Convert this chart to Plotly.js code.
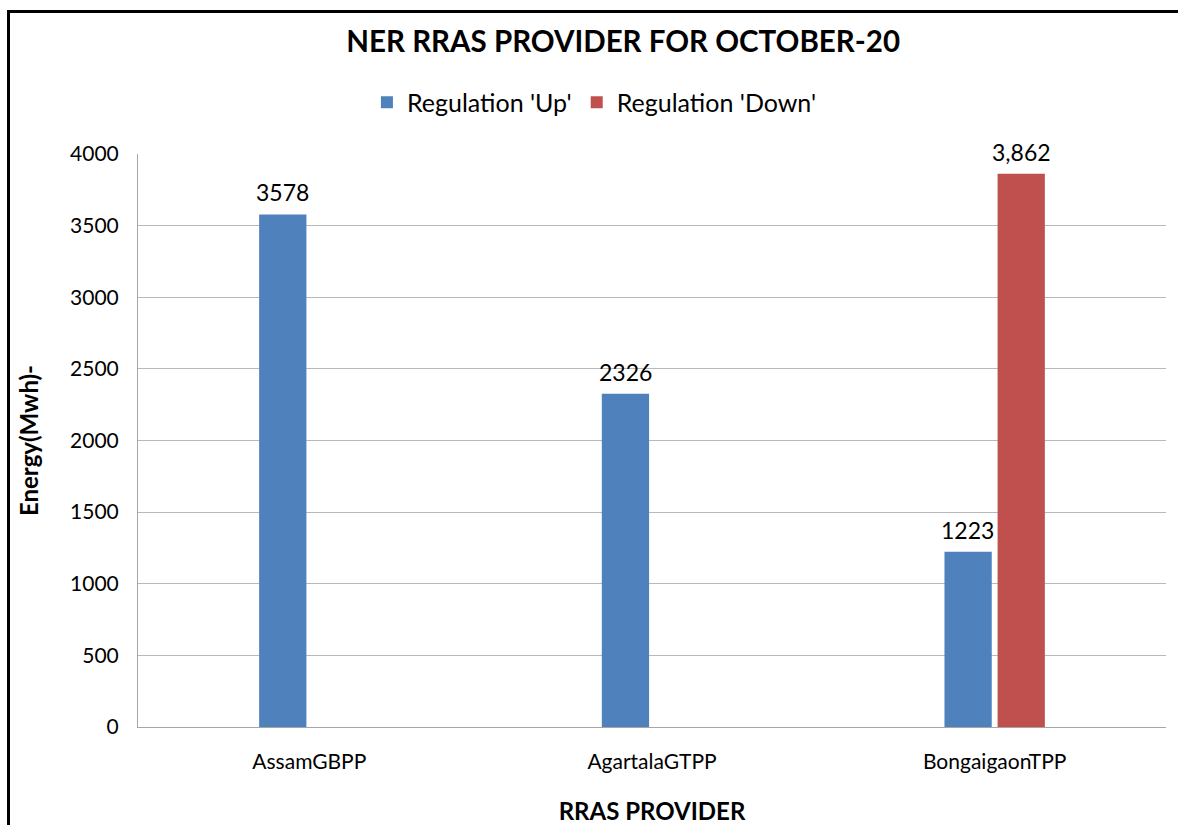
<!DOCTYPE html>
<html>
<head>
<meta charset="utf-8">
<script src="https://cdn.plot.ly/plotly-3.0.1.min.js"></script>
<style>
  html, body { margin: 0; padding: 0; background: #fff; }
  #wrap { position: relative; width: 1178px; height: 825px; overflow: hidden; }
  #chart { width: 1178px; height: 825px; }
  #frame { position: absolute; left: 7px; top: 10px; width: 1200px; height: 900px;
           border-left: 3px solid #000; border-top: 3px solid #000; pointer-events: none; }
</style>
</head>
<body>
<div id="wrap">
  <div id="chart"></div>
  <div id="frame"></div>
</div>
<script>
const categories = ["AssamGBPP", "AgartalaGTPP", "BongaigaonTPP"];
const regUp = [3578, 2326, 1223];
const regDown = [null, null, 3862];
const upLabels = ["3578", "2326", "1223"];
const downLabels = ["", "", "3,862"];

const font = "Lato, 'Open Sans', sans-serif";

const traces = [
  {
    type: "bar", name: "Regulation 'Up'", x: categories, y: regUp,
    marker: { color: "#4f81bd" }, hoverinfo: "x+y"
  },
  {
    type: "bar", name: "Regulation 'Down'", x: categories, y: regDown,
    marker: { color: "#c0504d" }, hoverinfo: "x+y"
  }
];

// data labels placed above each bar, computed from the series arrays
const annotations = [];
categories.forEach((c, i) => {
  if (regUp[i] != null) annotations.push({
    x: c, y: regUp[i], xref: "x", yref: "y", text: upLabels[i],
    showarrow: false, yanchor: "bottom", xanchor: "center", xshift: -27, yshift: 6,
    font: { size: 23, family: font, color: "#000" }
  });
  if (regDown[i] != null) annotations.push({
    x: c, y: regDown[i], xref: "x", yref: "y", text: downLabels[i],
    showarrow: false, yanchor: "bottom", xanchor: "center", xshift: 27, yshift: 6,
    font: { size: 23, family: font, color: "#000" }
  });
});

const layout = {
  width: 1178, height: 825,
  margin: { l: 138, r: 12, t: 154, b: 98 },
  paper_bgcolor: "#fff", plot_bgcolor: "#fff",
  font: { family: font, color: "#000" },
  barmode: "group",
  bargap: 0.69,
  bargroupgap: 0.11,
  annotations: annotations,
  title: {
    text: "<b>NER RRAS PROVIDER FOR OCTOBER-20</b>",
    font: { size: 29.5, family: font, color: "#000" },
    x: 0.529, xanchor: "center", y: 0.949, yanchor: "middle"
  },
  showlegend: true,
  legend: {
    orientation: "h", x: 0.444, xanchor: "center", y: 1.09, yanchor: "middle",
    font: { size: 25, family: font, color: "#000" },
    itemwidth: 30, traceorder: "normal"
  },
  xaxis: {
    type: "category",
    showline: true, linecolor: "#a6a6a6", linewidth: 1,
    ticks: "", ticklabelstandoff: 16,
    tickfont: { size: 21, family: font, color: "#000" },
    title: { text: "<b>RRAS PROVIDER</b>", font: { size: 24, family: font, color: "#000" }, standoff: 48 },
    automargin: false
  },
  yaxis: {
    range: [0, 4000], dtick: 500, tickformat: "d",
    showline: true, linecolor: "#a6a6a6", linewidth: 1,
    showgrid: true, gridcolor: "#b8b8b8", gridwidth: 1,
    zeroline: false,
    ticks: "", ticklabelstandoff: 14,
    tickfont: { size: 21, family: font, color: "#000" },
    title: { text: "<b>Energy(Mwh)-</b>", font: { size: 24, family: font, color: "#000" }, standoff: 24 },
    automargin: false
  }
};

Plotly.newPlot("chart", traces, layout, { displayModeBar: false, staticPlot: true });
</script>
</body>
</html>
